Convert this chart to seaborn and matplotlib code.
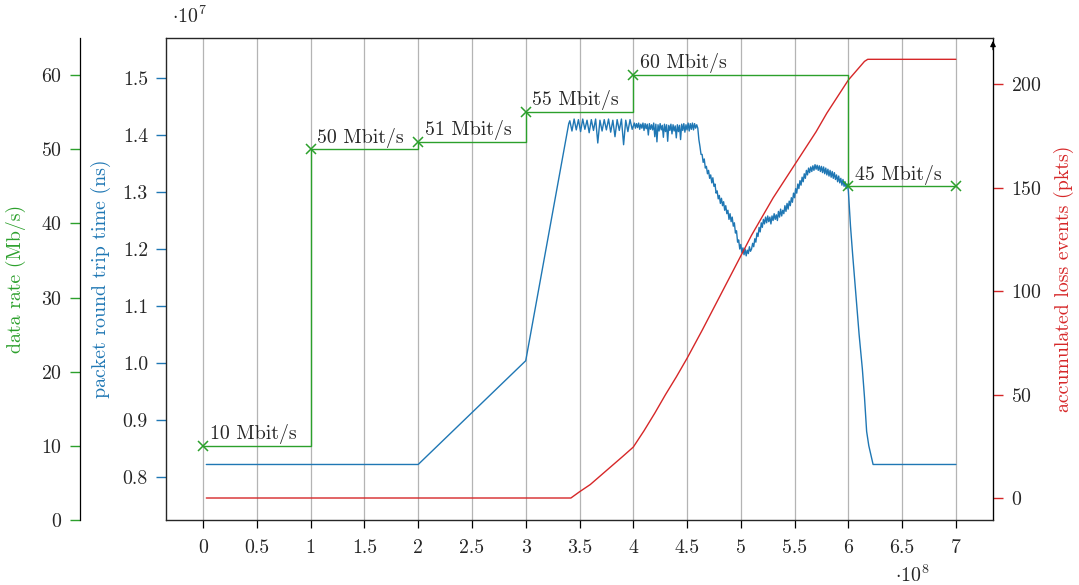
import numpy as np
import pandas as pd
import matplotlib.pyplot as plt
import seaborn as sns

# data rate steps (x in 1e8 ns, rate in Mb/s)
rate_x = [0, 1, 2, 3, 4, 6, 7]
rate = [10, 50, 51, 55, 60, 45, 45]

# accumulated loss events (x in 1e8, pkts)
loss_x = [0.03, 3.42, 3.5, 3.6, 3.7, 3.8, 3.9, 4.0, 4.1, 4.2, 4.3, 4.4, 4.5,
          4.64, 4.8, 4.93, 5.01, 5.1, 5.2, 5.3, 5.4, 5.5, 5.6, 5.7, 5.8, 5.9,
          6.0, 6.05, 6.1, 6.15, 6.18, 7.0]
loss = [0, 0, 3, 6.5, 11, 15.5, 20, 24.6, 32.5, 41, 50, 58.5, 67.5,
        81, 97, 110, 118, 127, 136, 145, 153, 161, 169, 177, 186, 194,
        202, 205, 208, 211, 212, 212]

# packet round trip time (x in 1e8, rtt in 1e7 ns)
rtt_x_ramp = [0.03, 2.0, 3.0, 3.40]
rtt_ramp = [0.822, 0.822, 1.004, 1.42]

rtt_x_saw = [3.41, 3.43, 3.45, 3.47, 3.49, 3.51, 3.53, 3.55, 3.57, 3.59,
             3.61, 3.63, 3.65, 3.67, 3.69, 3.71, 3.73, 3.75, 3.77, 3.79,
             3.81, 3.83, 3.85, 3.87, 3.89, 3.91, 3.93, 3.95, 3.97, 3.99]
rtt_saw = [1.425, 1.407, 1.428, 1.409, 1.427, 1.406, 1.428, 1.410, 1.426, 1.404,
           1.427, 1.408, 1.428, 1.386, 1.426, 1.407, 1.427, 1.409, 1.428, 1.405,
           1.426, 1.397, 1.427, 1.408, 1.428, 1.383, 1.426, 1.406, 1.427, 1.410]

rtt_x_flat = [4.01, 4.02, 4.03, 4.04, 4.05, 4.06, 4.07, 4.08, 4.09, 4.10,
              4.11, 4.12, 4.13, 4.14, 4.15, 4.16, 4.17, 4.18, 4.19, 4.20,
              4.21, 4.22, 4.23, 4.24, 4.25, 4.26, 4.27, 4.28, 4.29, 4.30,
              4.31, 4.32, 4.33, 4.34, 4.35, 4.36, 4.37, 4.38, 4.39, 4.40,
              4.41, 4.42, 4.43, 4.44, 4.45, 4.46, 4.47, 4.48, 4.49, 4.50,
              4.51, 4.52, 4.53, 4.54, 4.55, 4.56, 4.57, 4.58, 4.59]
rtt_flat = [1.421, 1.412, 1.420, 1.413, 1.421, 1.410, 1.419, 1.412, 1.421, 1.408,
            1.420, 1.411, 1.419, 1.400, 1.420, 1.410, 1.418, 1.409, 1.421, 1.397,
            1.419, 1.388, 1.418, 1.407, 1.420, 1.409, 1.417, 1.396, 1.419, 1.406,
            1.418, 1.389, 1.417, 1.408, 1.419, 1.402, 1.418, 1.407, 1.416, 1.395,
            1.418, 1.406, 1.417, 1.392, 1.419, 1.408, 1.420, 1.405, 1.418, 1.409,
            1.421, 1.407, 1.420, 1.410, 1.421, 1.409, 1.420, 1.412, 1.418]

rtt_x_fall = [4.60, 4.61, 4.62, 4.63, 4.64, 4.65, 4.66, 4.67, 4.68, 4.69,
              4.70, 4.71, 4.72, 4.73, 4.74, 4.75, 4.76, 4.77, 4.78, 4.79,
              4.80, 4.81, 4.82, 4.83, 4.84, 4.85, 4.86, 4.87, 4.88, 4.89,
              4.90, 4.91, 4.92, 4.93, 4.94, 4.95, 4.96, 4.97, 4.98, 4.99,
              5.00, 5.01, 5.02, 5.03, 5.04, 5.05, 5.06, 5.07, 5.08, 5.09]
rtt_fall = [1.412, 1.392, 1.380, 1.366, 1.366, 1.352, 1.358, 1.342, 1.345, 1.332,
            1.338, 1.324, 1.330, 1.316, 1.325, 1.310, 1.314, 1.298, 1.302, 1.288,
            1.294, 1.280, 1.289, 1.276, 1.283, 1.268, 1.276, 1.262, 1.268, 1.252,
            1.262, 1.248, 1.256, 1.240, 1.246, 1.228, 1.232, 1.212, 1.216, 1.200,
            1.208, 1.194, 1.202, 1.190, 1.200, 1.188, 1.198, 1.192, 1.204, 1.196]

rtt_x_rise = [5.10, 5.11, 5.12, 5.13, 5.14, 5.15, 5.16, 5.17, 5.18, 5.19,
              5.20, 5.21, 5.22, 5.23, 5.24, 5.25, 5.26, 5.27, 5.28, 5.29,
              5.30, 5.31, 5.32, 5.33, 5.34, 5.35, 5.36, 5.37, 5.38, 5.39,
              5.40, 5.41, 5.42, 5.43, 5.44, 5.45, 5.46, 5.47, 5.48, 5.49,
              5.50, 5.51, 5.52, 5.53, 5.54, 5.55, 5.56, 5.57, 5.58, 5.59,
              5.60, 5.61, 5.62, 5.63, 5.64, 5.65, 5.66, 5.67, 5.68, 5.69,
              5.70, 5.71, 5.72, 5.73, 5.74, 5.75, 5.76, 5.77, 5.78, 5.79,
              5.80, 5.81, 5.82, 5.83, 5.84, 5.85, 5.86, 5.87, 5.88, 5.89,
              5.90, 5.91, 5.92, 5.93, 5.94, 5.95, 5.96, 5.97, 5.98, 5.99, 6.00]
rtt_rise = [1.200, 1.210, 1.204, 1.218, 1.212, 1.228, 1.222, 1.238, 1.230, 1.246,
            1.238, 1.252, 1.244, 1.256, 1.246, 1.258, 1.248, 1.256, 1.244, 1.258,
            1.250, 1.262, 1.252, 1.260, 1.250, 1.266, 1.256, 1.270, 1.258, 1.268,
            1.262, 1.276, 1.266, 1.280, 1.270, 1.284, 1.276, 1.290, 1.282, 1.298,
            1.290, 1.306, 1.298, 1.314, 1.306, 1.320, 1.312, 1.326, 1.318, 1.332,
            1.324, 1.338, 1.330, 1.342, 1.334, 1.344, 1.336, 1.346, 1.338, 1.348,
            1.340, 1.347, 1.338, 1.346, 1.336, 1.345, 1.334, 1.344, 1.332, 1.342,
            1.330, 1.340, 1.328, 1.338, 1.326, 1.336, 1.324, 1.334, 1.322, 1.330,
            1.318, 1.328, 1.316, 1.324, 1.312, 1.322, 1.310, 1.318, 1.306, 1.314, 1.302]

rtt_x_drop = [6.02, 6.04, 6.07, 6.10, 6.13, 6.15, 6.17, 6.19, 6.23, 7.0]
rtt_drop = [1.24, 1.19, 1.12, 1.05, 0.99, 0.94, 0.88, 0.855, 0.822, 0.822]

x_ticks = [0, 0.5, 1, 1.5, 2, 2.5, 3, 3.5, 4, 4.5, 5, 5.5, 6, 6.5, 7]
x_tick_labels = ["0", "0.5", "1", "1.5", "2", "2.5", "3", "3.5", "4", "4.5",
                 "5", "5.5", "6", "6.5", "7"]
rtt_ticks = [0.8, 0.9, 1.0, 1.1, 1.2, 1.3, 1.4, 1.5]
rtt_tick_labels = ["0.8", "0.9", "1.0", "1.1", "1.2", "1.3", "1.4", "1.5"]
loss_ticks = [0, 50, 100, 150, 200]
rate_ticks = [0, 10, 20, 30, 40, 50, 60]

green = "#2ca02c"
blue = "#1f77b4"
red = "#d62728"

sns.set_style("ticks")
plt.rcParams["font.family"] = ["cmr10", "DejaVu Serif"]
plt.rcParams["mathtext.fontset"] = "cm"
plt.rcParams["axes.formatter.use_mathtext"] = True
plt.rcParams["font.size"] = 14.3

rtt_df = pd.DataFrame({
    "t": rtt_x_ramp + rtt_x_saw + rtt_x_flat + rtt_x_fall + rtt_x_rise + rtt_x_drop,
    "rtt": rtt_ramp + rtt_saw + rtt_flat + rtt_fall + rtt_rise + rtt_drop,
})

fig = plt.figure(figsize=(10.79, 5.85), dpi=100)
ax = fig.add_axes([166 / 1079, 1 - 520 / 585, 827 / 1079, 482 / 585])
ax_red = ax.twinx()
ax_green = ax.twinx()

# rtt (main axis)
sns.lineplot(data=rtt_df, x="t", y="rtt", ax=ax, color=blue, linewidth=1.0,
             estimator=None)
ax.set_xlim(-0.345, 7.345)
ax.set_ylim(0.7246, 1.5702)
ax.set_xticks(x_ticks)
ax.set_xticklabels(x_tick_labels)
ax.set_yticks(rtt_ticks)
ax.set_yticklabels(rtt_tick_labels)
ax.grid(axis="x", color="#b4b4b4", linewidth=0.9)
ax.tick_params(axis="x", direction="out", length=6, width=0.9, color="black", pad=8)
ax.tick_params(axis="y", direction="out", length=7, width=1.0, color=blue, pad=6)
ax.set_xlabel("")
ax.set_ylabel("packet round trip time (ns)", color=blue)
ax.yaxis.set_label_coords(-0.066, 0.5)
for s in ["left", "bottom", "top"]:
    ax.spines[s].set_color("black")
    ax.spines[s].set_linewidth(0.9)

# loss events (right axis)
sns.lineplot(x=loss_x, y=loss, ax=ax_red, color=red, linewidth=1.0, estimator=None)
ax_red.set_ylim(-10.63, 222.3)
ax_red.set_yticks(loss_ticks)
ax_red.tick_params(axis="y", direction="out", length=7, width=1.0, color=red, pad=6)
ax_red.set_ylabel("accumulated loss events (pkts)", color=red)
ax_red.yaxis.set_label_coords(1.074, 0.5)
ax_red.spines["right"].set_color("black")
ax_red.spines["right"].set_linewidth(0.9)
ax_red.annotate("", xy=(1, 1.0), xytext=(1, 0.97), xycoords="axes fraction",
                arrowprops=dict(arrowstyle="-|>", lw=0.9, color="black",
                                mutation_scale=8))

# data rate (outer left axis)
sns.lineplot(x=rate_x, y=rate, ax=ax_green, color=green, linewidth=1.0,
             drawstyle="steps-post", marker="x", markersize=7,
             markeredgecolor=green, markeredgewidth=1.1, estimator=None)
ax_green.set_ylim(0, 65)
ax_green.set_yticks(rate_ticks)
ax_green.yaxis.set_ticks_position("left")
ax_green.yaxis.set_label_position("left")
ax_green.spines["left"].set_position(("axes", -0.104))
ax_green.spines["left"].set_visible(True)
ax_green.spines["left"].set_color("black")
ax_green.spines["left"].set_linewidth(0.9)
ax_green.spines["right"].set_visible(False)
ax_green.spines["top"].set_visible(False)
ax_green.spines["bottom"].set_visible(False)
ax_green.tick_params(axis="y", direction="out", length=7, width=1.0, color=green, pad=6)
ax_green.set_ylabel("data rate (Mb/s)", color=green)
ax_green.yaxis.set_label_coords(-0.169, 0.5)

for xv, rv in zip(rate_x[:-1], rate[:-1]):
    ax_green.text(xv + 0.06, rv + 0.9, f"{rv} Mbit/s", ha="left", va="baseline")

fig.text(172 / 1079, 1 - 23 / 585, r"$\cdot 10^{7}$", fontsize=14.3, va="baseline")
fig.text(895 / 1079, 1 - 582 / 585, r"$\cdot 10^{8}$", fontsize=14.3, va="baseline")

fig.savefig("out.png", dpi=100)
